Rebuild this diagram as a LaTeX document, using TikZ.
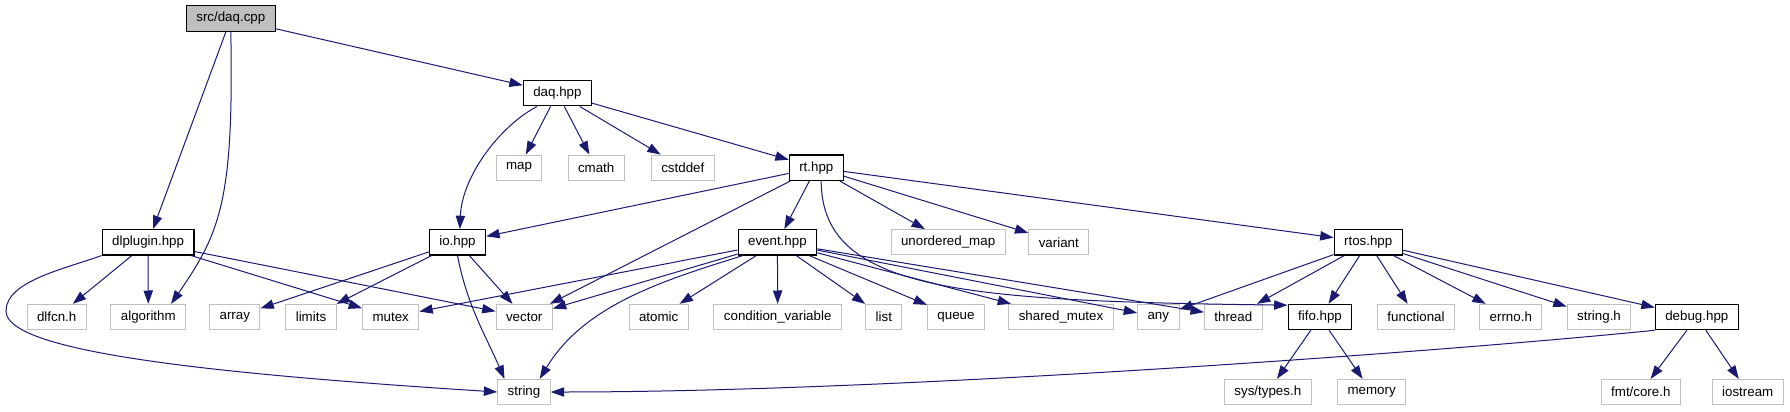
\documentclass[tikz,border=0pt]{standalone}
\usepackage{fontspec}
\setmainfont{Liberation Sans}
\usetikzlibrary{arrows.meta}
\definecolor{edgeblue}{HTML}{191970}
\definecolor{boxgrey}{HTML}{BFBFBF}
\begin{document}
\begin{tikzpicture}[x=0.75pt,y=0.75pt,
    hdr/.style={draw=black,line width=0.9pt,minimum height=19pt,inner xsep=7.5pt,inner ysep=2pt,font=\fontsize{10}{12}\selectfont},
    syshdr/.style={hdr,draw=boxgrey,line width=0.75pt},
    dep/.style={draw=edgeblue,line width=0.75pt,-{Triangle[length=10pt,width=7pt]}}]
  \useasboundingbox (0,0) rectangle (1790,411);
  % project files
  \node[hdr,fill=boxgrey] (srcdaq) at (230.8,392.5) {src/daq.cpp};
  \node[hdr] (daqhpp) at (557.4,317.8) {daq.hpp};
  \node[hdr] (rthpp) at (816.3,243.3) {rt.hpp};
  \foreach \n/\x/\t in {dlplugin/148.1/dlplugin.hpp,iohpp/457.5/io.hpp,eventhpp/777.4/event.hpp,rtoshpp/1368.2/rtos.hpp}
    \node[hdr] (\n) at (\x,168.7) {\t};
  \node[hdr] (fifohpp) at (1320,94) {fifo.hpp};
  \node[hdr] (debughpp) at (1696.8,94) {debug.hpp};
  % system headers
  \foreach \n/\x/\t in {map/519/map,cmath/596.2/cmath,cstddef/682.8/cstddef}
    \node[syshdr] (\n) at (\x,243.3) {\t};
  \foreach \n/\x/\t in {unorderedmap/948.1/unordered\_map,variant/1058.8/variant}
    \node[syshdr] (\n) at (\x,168.7) {\t};
  \foreach \n/\x/\t in {dlfcn/56.7/dlfcn.h,algorithm/148.3/algorithm,array/234.8/array,
      limits/311/limits,mutex/390.7/mutex,vector/524.2/vector,atomic/658.7/atomic,
      condvar/777.7/condition\_variable,list/883.8/list,queue/956/queue,
      sharedmutex/1061/shared\_mutex,any/1158.3/any,thread/1233.3/thread,
      functional/1416/functional,errnoh/1510.8/errno.h,stringh/1599/string.h}
    \node[syshdr] (\n) at (\x,94) {\t};
  \foreach \n/\x/\t in {string/524/string,systypes/1267.8/{sys/types.h},memory/1371.6/memory,
      fmtcore/1640.8/{fmt/core.h},iostream/1747.7/iostream}
    \node[syshdr] (\n) at (\x,19) {\t};
  % straight includes
  \foreach \a/\b in {srcdaq/daqhpp,srcdaq/dlplugin,
      daqhpp/map,daqhpp/cmath,daqhpp/cstddef,daqhpp/rthpp,
      rthpp/iohpp,rthpp/vector,rthpp/eventhpp,rthpp/unorderedmap,rthpp/variant,rthpp/rtoshpp,
      dlplugin/dlfcn,dlplugin/algorithm,dlplugin/mutex,dlplugin/vector,
      iohpp/array,iohpp/limits,iohpp/vector,
      eventhpp/mutex,eventhpp/vector,eventhpp/atomic,eventhpp/condvar,eventhpp/list,
      eventhpp/queue,eventhpp/sharedmutex,eventhpp/any,eventhpp/thread,
      rtoshpp/any,rtoshpp/thread,rtoshpp/fifohpp,rtoshpp/functional,rtoshpp/errnoh,
      rtoshpp/stringh,rtoshpp/debughpp,
      fifohpp/systypes,fifohpp/memory,debughpp/fmtcore,debughpp/iostream}
    \draw[dep] (\a) -- (\b);
  % curved includes
  \draw[dep] (srcdaq.south) .. controls (234,210) and (220,178) .. (algorithm.30);
  \draw[dep] (daqhpp.213) .. controls (500,285) and (462,235) .. (iohpp.80);
  \draw[dep] (iohpp.south) .. controls (467,106) and (485,76.7) .. (string.146);
  \draw[dep] (eventhpp.201) .. controls (665,131) and (584.6,106.7) .. (string.40);
  \draw[dep] (dlplugin.south west) .. controls (65.4,142.3) and (6,130) .. (6,100)
    .. controls (6,60) and (200,38) .. (string.west);
  \draw[dep] (debughpp.south west) .. controls (1450,60) and (900,19) .. (string.east);
  \draw[dep] (rthpp.-70) .. controls (822,120) and (960,110) .. (fifohpp.160);
\end{tikzpicture}
\end{document}
